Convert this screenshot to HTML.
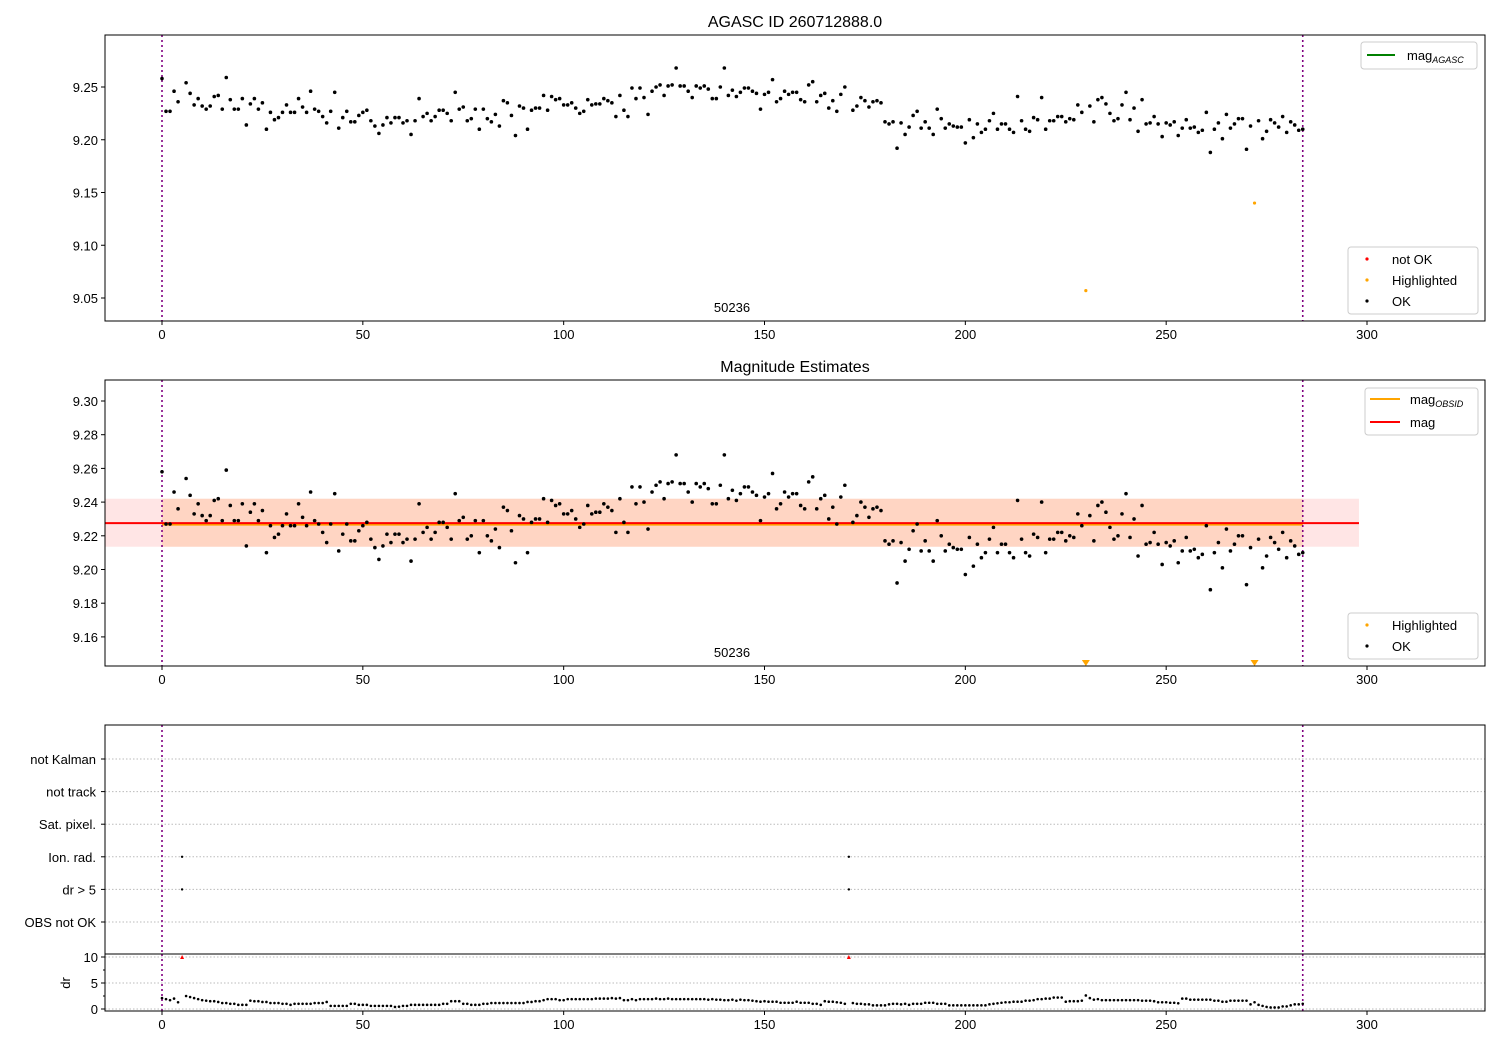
<!DOCTYPE html>
<html><head><meta charset="utf-8"><style>
body{margin:0;background:#fff}
svg{display:block;font-family:"Liberation Sans","DejaVu Sans",sans-serif}
</style></head><body>
<svg id="chart" width="1500" height="1050" viewBox="0 0 1500 1050"></svg>
<script>
const magValues=[9.258,9.227,9.227,9.246,9.236,9.230,9.254,9.244,9.233,9.239,9.232,9.229,9.232,9.241,9.242,9.229,9.259,9.238,9.229,9.229,9.239,9.214,9.234,9.239,9.229,9.235,9.210,9.226,9.219,9.221,9.226,9.233,9.226,9.226,9.239,9.231,9.226,9.246,9.229,9.227,9.222,9.216,9.227,9.245,9.211,9.221,9.227,9.217,9.217,9.223,9.226,9.228,9.218,9.213,9.206,9.214,9.221,9.216,9.221,9.221,9.216,9.218,9.205,9.218,9.239,9.222,9.225,9.218,9.222,9.228,9.228,9.225,9.218,9.245,9.229,9.231,9.218,9.220,9.229,9.210,9.229,9.220,9.217,9.224,9.213,9.237,9.235,9.223,9.204,9.232,9.230,9.210,9.228,9.230,9.230,9.242,9.228,9.241,9.238,9.239,9.233,9.233,9.235,9.230,9.225,9.227,9.238,9.233,9.234,9.234,9.239,9.237,9.235,9.222,9.242,9.228,9.222,9.249,9.239,9.249,9.240,9.224,9.246,9.250,9.252,9.242,9.251,9.252,9.268,9.251,9.251,9.246,9.240,9.251,9.249,9.251,9.248,9.239,9.239,9.250,9.268,9.242,9.247,9.241,9.245,9.249,9.249,9.246,9.244,9.229,9.243,9.245,9.257,9.236,9.239,9.246,9.243,9.245,9.245,9.238,9.236,9.252,9.255,9.236,9.242,9.244,9.230,9.237,9.227,9.243,9.250,9.229,9.228,9.232,9.240,9.237,9.231,9.236,9.237,9.235,9.217,9.215,9.217,9.192,9.216,9.205,9.212,9.223,9.227,9.211,9.217,9.211,9.205,9.229,9.220,9.211,9.215,9.213,9.212,9.212,9.197,9.219,9.202,9.215,9.207,9.210,9.218,9.225,9.210,9.215,9.215,9.210,9.207,9.241,9.218,9.210,9.208,9.221,9.219,9.240,9.210,9.218,9.218,9.222,9.222,9.217,9.220,9.219,9.233,9.226,9.057,9.232,9.217,9.238,9.240,9.234,9.225,9.218,9.220,9.233,9.245,9.219,9.230,9.208,9.238,9.215,9.216,9.222,9.215,9.203,9.216,9.214,9.217,9.204,9.211,9.219,9.211,9.212,9.207,9.209,9.226,9.188,9.210,9.216,9.201,9.224,9.211,9.215,9.220,9.220,9.191,9.213,9.140,9.218,9.201,9.208,9.219,9.216,9.212,9.222,9.207,9.217,9.214,9.209,9.210];
const drValues=[2.1,1.9,1.7,2.0,1.3,10,2.5,2.3,2.1,1.9,1.7,1.6,1.5,1.5,1.35,1.15,1.15,1.0,1.0,0.8,0.8,0.8,1.6,1.5,1.5,1.35,1.35,1.15,1.15,1.15,1.0,1.0,0.8,1.0,1.0,1.0,1.0,1.0,1.15,1.15,1.15,1.35,0.6,0.6,0.6,0.6,0.6,1.0,1.0,0.8,0.8,0.8,0.6,0.6,0.6,0.6,0.6,0.6,0.4,0.45,0.6,0.6,0.8,0.8,0.8,0.8,0.8,0.8,0.8,0.8,1.0,1.0,1.5,1.5,1.5,1.0,1.0,0.8,0.8,0.8,1.0,1.0,1.15,1.15,1.15,1.15,1.15,1.15,1.15,1.15,1.15,1.35,1.35,1.5,1.5,1.7,1.9,1.9,1.9,1.7,1.7,1.9,1.9,1.9,1.9,1.9,1.9,1.9,2.0,2.0,2.0,2.0,2.1,2.0,2.1,1.7,1.7,1.9,1.7,1.9,1.9,1.9,1.9,2.0,1.9,1.9,2.0,1.9,1.9,1.9,1.9,1.9,1.9,1.9,1.9,1.9,1.8,1.9,1.8,1.8,1.7,1.7,1.8,1.6,1.8,1.7,1.7,1.6,1.5,1.4,1.5,1.4,1.4,1.4,1.2,1.2,1.2,1.2,1.4,1.2,1.2,1.2,1.0,1.0,0.8,1.5,1.4,1.4,1.3,1.2,1.0,10,1.15,1.0,1.0,0.9,0.9,0.7,0.7,0.7,0.7,0.9,1.0,1.0,0.9,1.0,0.8,1.0,1.0,1.0,1.2,1.2,1.2,1.0,1.0,1.0,0.7,0.7,0.7,0.7,0.7,0.7,0.7,0.7,0.7,0.7,0.9,1.0,1.1,1.2,1.3,1.3,1.4,1.4,1.4,1.6,1.6,1.7,1.9,1.9,2.0,2.0,2.2,2.2,2.2,1.4,1.5,1.5,1.5,1.6,2.6,2.1,1.8,1.9,1.7,1.7,1.7,1.7,1.7,1.7,1.7,1.7,1.7,1.7,1.6,1.6,1.6,1.5,1.3,1.3,1.3,1.2,1.2,1.1,2.0,2.0,1.8,1.8,1.8,1.8,1.8,1.8,1.6,1.6,1.4,1.4,1.6,1.6,1.6,1.6,1.6,0.9,1.3,0.8,0.6,0.4,0.3,0.3,0.3,0.5,0.5,0.7,0.9,0.9,1.0];
const highlightedIdx=[230,272];
const notOkIdx=[5,171];
const flagCats=["OBS not OK","dr > 5","Ion. rad.","Sat. pixel.","not track","not Kalman"];
const flagPoints=[[5,1],[5,2],[171,1],[171,2]];
const xTicks=[0,50,100,150,200,250,300];
const y1Ticks=[9.05,9.10,9.15,9.20,9.25];
const y2Ticks=[9.16,9.18,9.20,9.22,9.24,9.26,9.28,9.30];
const drTicks=[0,5,10];
const meanMag=[9.2275];
const bandMag=[9.2135,9.2420];
const obsRange=[0,284];

const svg=document.getElementById('chart');
const NS='http://www.w3.org/2000/svg';
function mk(tag,attrs,parent){const e=document.createElementNS(NS,tag);for(const k in attrs)e.setAttribute(k,attrs[k]);(parent||svg).appendChild(e);return e;}
const X0=105,X1=1485;
const sx=v=>162+v*4.0167;
const sy1=v=>87+(9.25-v)*1055;
const sy2=v=>401+(9.30-v)*1685;
const syF=k=>922-32.6*k;
const syD=v=>1009-v*5.2;
const fmt2=v=>v.toFixed(2);

function xAxis(yb,g){
  xTicks.forEach(t=>{
    mk('line',{x1:sx(t),x2:sx(t),y1:yb,y2:yb+4,stroke:'#000','stroke-width':1},g);
    const tx=mk('text',{x:sx(t),y:yb+18,'font-size':13,'text-anchor':'middle'},g);tx.textContent=t;
  });
}
function vlines(yt,yb,g){
  obsRange.forEach(v=>{mk('line',{x1:sx(v),x2:sx(v),y1:yt,y2:yb,stroke:'#800080','stroke-width':1.6,'stroke-dasharray':'2,3'},g);});
}
function frame(yt,yb,g){mk('rect',{x:X0,y:yt,width:X1-X0,height:yb-yt,fill:'none',stroke:'#000','stroke-width':1},g);}

// ---------- Panel 1
const p1=mk('g',{});

let t=mk('text',{x:795,y:27,'font-size':16,'text-anchor':'middle'},p1);t.textContent='AGASC ID 260712888.0';

y1Ticks.forEach(v=>{mk('line',{x1:X0-4,x2:X0,y1:sy1(v),y2:sy1(v),stroke:'#000'},p1);const l=mk('text',{x:X0-7,y:sy1(v)+5,'font-size':13,'text-anchor':'end'},p1);l.textContent=fmt2(v);});
vlines(35,321,p1);
magValues.forEach((v,i)=>{
  if(highlightedIdx.includes(i)){const c=mk('circle',{cx:sx(i),cy:sy1(v),r:1.6,fill:'orange'},p1);return;}
  if(notOkIdx.includes(i))return;
  const c=mk('circle',{cx:sx(i),cy:sy1(v),r:1.8,fill:'#000'},p1);
  
});
t=mk('text',{x:732,y:312,'font-size':13,'text-anchor':'middle'},p1);t.textContent='50236';
frame(35,321,p1);xAxis(321,p1);
let lg=mk('g',{},p1);
mk('rect',{x:1361,y:42,width:116,height:27,rx:3,fill:'#fff',stroke:'#ccc'},lg);
mk('line',{x1:1367,x2:1395,y1:55,y2:55,stroke:'green','stroke-width':2},lg);
t=mk('text',{x:1407,y:60,'font-size':13},lg);t.innerHTML='mag<tspan font-size="9" font-style="italic" dy="3">AGASC</tspan>';
lg=mk('g',{},p1);
mk('rect',{x:1348,y:247,width:130,height:67,rx:3,fill:'#fff',stroke:'#ccc'},lg);
[['not OK','red',259],['Highlighted','orange',280],['OK','#000',301]].forEach(([s,c,y])=>{mk('circle',{cx:1367,cy:y,r:1.6,fill:c},lg);const q=mk('text',{x:1392,y:y+5,'font-size':13},lg);q.textContent=s;});

// ---------- Panel 2
const p2=mk('g',{});

t=mk('text',{x:795,y:372,'font-size':16,'text-anchor':'middle'},p2);t.textContent='Magnitude Estimates';
mk('rect',{x:X0,y:sy2(bandMag[1]),width:sx(298)-X0,height:sy2(bandMag[0])-sy2(bandMag[1]),fill:'rgba(255,0,0,0.1)'},p2);
mk('rect',{x:sx(obsRange[0]),y:sy2(bandMag[1]),width:sx(obsRange[1])-sx(obsRange[0]),height:sy2(bandMag[0])-sy2(bandMag[1]),fill:'rgba(255,150,60,0.2)'},p2);
mk('line',{x1:sx(obsRange[0]),x2:sx(obsRange[1]),y1:sy2(meanMag[0])+1.5,y2:sy2(meanMag[0])+1.5,stroke:'orange','stroke-width':2},p2);
mk('line',{x1:X0,x2:sx(298),y1:sy2(meanMag[0]),y2:sy2(meanMag[0]),stroke:'red','stroke-width':2},p2);
y2Ticks.forEach(v=>{mk('line',{x1:X0-4,x2:X0,y1:sy2(v),y2:sy2(v),stroke:'#000'},p2);const l=mk('text',{x:X0-7,y:sy2(v)+5,'font-size':13,'text-anchor':'end'},p2);l.textContent=fmt2(v);});
vlines(380,666,p2);
magValues.forEach((v,i)=>{
  if(highlightedIdx.includes(i)){const x=sx(i);const p=mk('path',{d:`M${x-4},660 L${x+4},660 L${x},666 Z`,fill:'orange'},p2);return;}
  if(notOkIdx.includes(i))return;
  const c=mk('circle',{cx:sx(i),cy:sy2(v),r:1.8,fill:'#000'},p2);
  
});
t=mk('text',{x:732,y:657,'font-size':13,'text-anchor':'middle'},p2);t.textContent='50236';
frame(380,666,p2);xAxis(666,p2);
lg=mk('g',{},p2);
mk('rect',{x:1365,y:388,width:113,height:47,rx:3,fill:'#fff',stroke:'#ccc'},lg);
mk('line',{x1:1370,x2:1400,y1:399,y2:399,stroke:'orange','stroke-width':2},lg);
t=mk('text',{x:1410,y:404,'font-size':13},lg);t.innerHTML='mag<tspan font-size="9" font-style="italic" dy="3">OBSID</tspan>';
mk('line',{x1:1370,x2:1400,y1:422,y2:422,stroke:'red','stroke-width':2},lg);
t=mk('text',{x:1410,y:427,'font-size':13},lg);t.textContent='mag';
lg=mk('g',{},p2);
mk('rect',{x:1348,y:613,width:130,height:46,rx:3,fill:'#fff',stroke:'#ccc'},lg);
[['Highlighted','orange',625],['OK','#000',646]].forEach(([s,c,y])=>{mk('circle',{cx:1367,cy:y,r:1.6,fill:c},lg);const q=mk('text',{x:1392,y:y+5,'font-size':13},lg);q.textContent=s;});

// ---------- Panel 3 flags
const p3=mk('g',{});

flagCats.forEach((c,k)=>{
  mk('line',{x1:X0,x2:X1,y1:syF(k),y2:syF(k),stroke:'#bbb','stroke-width':1,'stroke-dasharray':'1.5,2'},p3);
  mk('line',{x1:X0-4,x2:X0,y1:syF(k),y2:syF(k),stroke:'#000'},p3);
  const l=mk('text',{x:X0-9,y:syF(k)+5,'font-size':13,'text-anchor':'end'},p3);l.textContent=c;
});
vlines(725,954,p3);
flagPoints.forEach(([i,k])=>{const c=mk('circle',{cx:sx(i),cy:syF(k),r:1.2,fill:'#000'},p3);});
mk('rect',{x:X0,y:725,width:X1-X0,height:229,fill:'none',stroke:'#000'},p3);

// ---------- dr panel
const p4=mk('g',{});

drTicks.forEach(v=>{
  mk('line',{x1:X0,x2:X1,y1:syD(v),y2:syD(v),stroke:'#bbb','stroke-dasharray':'1.5,2'},p4);
  mk('line',{x1:X0-4,x2:X0,y1:syD(v),y2:syD(v),stroke:'#000'},p4);
  const l=mk('text',{x:X0-7,y:syD(v)+5,'font-size':13,'text-anchor':'end'},p4);l.textContent=v;
});
[2.5,7.5].forEach(v=>mk('line',{x1:X0-2,x2:X0,y1:syD(v),y2:syD(v),stroke:'#000'},p4));
t=mk('text',{x:0,y:0,'font-size':13,'text-anchor':'middle',transform:`translate(70,983) rotate(-90)`},p4);t.textContent='dr';
vlines(954,1011,p4);
drValues.forEach((v,i)=>{
  if(v>=5){const x=sx(i),y=syD(v);const p=mk('path',{d:`M${x-2},${y+2} L${x+2},${y+2} L${x},${y-2} Z`,fill:'red'},p4);return;}
  const c=mk('circle',{cx:sx(i),cy:syD(v),r:1.3,fill:'#000'},p4);
  
});
mk('rect',{x:X0,y:954,width:X1-X0,height:57,fill:'none',stroke:'#000'},p4);
xAxis(1011,p4);
</script>
</body></html>
